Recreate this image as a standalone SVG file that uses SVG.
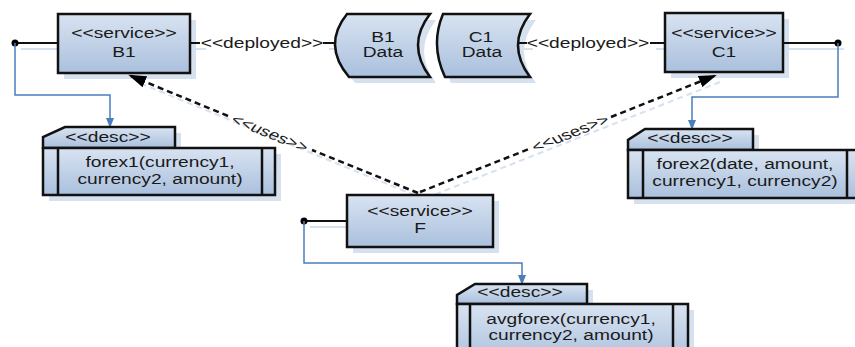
<svg xmlns="http://www.w3.org/2000/svg" width="855" height="347" viewBox="0 0 855 347">
  <defs>
    <linearGradient id="fillBlue" x1="0" y1="0" x2="0" y2="1">
      <stop offset="0" stop-color="#d8e3f1"/>
      <stop offset="1" stop-color="#aac0dd"/>
    </linearGradient>
    <marker id="usesHead" viewBox="0 0 18 12" refX="15" refY="6" markerWidth="18" markerHeight="12" markerUnits="userSpaceOnUse" orient="auto">
      <path d="M0,0 L18,6 L0,12 Z" fill="#000"/>
    </marker>
    <marker id="descHead" viewBox="0 0 10 8" refX="9" refY="4" markerWidth="10" markerHeight="8" markerUnits="userSpaceOnUse" orient="auto">
      <path d="M0,0 L10,4 L0,8 Z" fill="#4a7ebb"/>
    </marker>
    <style>
      .box { fill: url(#fillBlue); stroke: #111; stroke-width: 2.5; }
      .inner { stroke: #111; stroke-width: 2.5; fill: none; }
      .shadow { fill: #d6e1f0; stroke: none; }
      .shadowLine { fill: none; stroke: #d6e1f0; stroke-width: 2; }
      .wire { fill: none; stroke: #111; stroke-width: 2; }
      .link { fill: none; stroke: #4a7ebb; stroke-width: 1.5; }
      .uses { fill: none; stroke: #111; stroke-width: 2.5; stroke-dasharray: 6 4; }
      .dot { fill: #000; }
      text { font-family: "Liberation Sans", Arial, sans-serif; font-size: 14px; fill: #1a1a1a; text-anchor: middle; }
    </style>
  </defs>

  <!-- soft drop shadows -->
  <g id="shadows" transform="translate(6,6)">
    <rect class="shadow" x="58" y="14" width="132" height="59"/>
    <rect class="shadow" x="665" y="13" width="118" height="59"/>
    <rect class="shadow" x="347" y="195" width="146" height="52"/>
    <path class="shadow" d="M347,14 Q322,45 349,77 L430,77 Q406,45 430,14 Z"/>
    <path class="shadow" d="M443,14 Q430,45 445,77 L530,77 Q506,45 530,14 Z"/>
    <path class="shadow" d="M43,148 L43,137 L65,127 L175,127 L175,148 Z"/>
    <rect class="shadow" x="43" y="148" width="232" height="47"/>
    <path class="shadow" d="M628,150 L628,140 L645,129 L753,129 L753,150 Z"/>
    <rect class="shadow" x="628" y="150" width="230" height="48"/>
    <path class="shadow" d="M457,304 L457,295 L475,284 L587,284 L587,304 Z"/>
    <rect class="shadow" x="457" y="304" width="231" height="60"/>
    <path class="shadowLine" d="M15,43 H58 M190,43 H200 M323,43 H336 M518,43 H527 M650,43 H665 M783,43 H838 M304,221 H347"/>
    <path class="shadowLine" stroke-dasharray="6 4" d="M418,193 L131,76 M420,192 L714,76"/>
  </g>

  <!-- connectors -->
  <g id="connectors">
    <!-- deployed links -->
    <path class="wire" d="M190,43 H200 M323,43 H336"/>
    <text transform="translate(262,48) scale(1.37,1)">&lt;&lt;deployed&gt;&gt;</text>
    <path class="wire" d="M518,43 H527 M650,43 H665"/>
    <text transform="translate(588,48) scale(1.37,1)">&lt;&lt;deployed&gt;&gt;</text>

    <!-- provided interface stubs -->
    <path class="wire" d="M15,43 H58"/>
    <circle class="dot" cx="15" cy="43" r="3.5"/>
    <path class="wire" d="M783,43 H838"/>
    <circle class="dot" cx="838" cy="43" r="3.5"/>
    <path class="wire" d="M304,221 H347"/>
    <circle class="dot" cx="304" cy="221" r="3.5"/>

    <!-- description links -->
    <path class="link" d="M15,43 V95 H110 V127" marker-end="url(#descHead)"/>
    <path class="link" d="M838,43 V97 H692 V129" marker-end="url(#descHead)"/>
    <path class="link" d="M304,221 V263 H522 V284" marker-end="url(#descHead)"/>

    <!-- uses dependencies -->
    <path class="uses" d="M418,193 L312,150 M228,116 L131,76" marker-end="url(#usesHead)"/>
    <text transform="translate(270,133) scale(1.37,1) rotate(29.1)" y="5">&lt;&lt;uses&gt;&gt;</text>
    <path class="uses" d="M420,192 L529,149 M611,117 L714,76" marker-end="url(#usesHead)"/>
    <text transform="translate(570,133) scale(1.37,1) rotate(-28.4)" y="5">&lt;&lt;uses&gt;&gt;</text>
  </g>

  <!-- service B1 -->
  <g id="service-b1">
    <rect class="box" x="58" y="14" width="132" height="59"/>
    <text transform="translate(124,38) scale(1.37,1)">&lt;&lt;service&gt;&gt;</text>
    <text transform="translate(124,57) scale(1.37,1)">B1</text>
  </g>

  <!-- B1 data store -->
  <g id="data-b1">
    <path class="box" d="M347,14 Q322,45 349,77 L430,77 Q406,45 430,14 Z"/>
    <text transform="translate(383,42) scale(1.37,1)">B1</text>
    <text transform="translate(383,57) scale(1.37,1)">Data</text>
  </g>

  <!-- C1 data store -->
  <g id="data-c1">
    <path class="box" d="M443,14 Q430,45 445,77 L530,77 Q506,45 530,14 Z"/>
    <text transform="translate(481,42) scale(1.37,1)">C1</text>
    <text transform="translate(482,57) scale(1.37,1)">Data</text>
  </g>

  <!-- service C1 -->
  <g id="service-c1">
    <rect class="box" x="665" y="13" width="118" height="59"/>
    <text transform="translate(724,38) scale(1.37,1)">&lt;&lt;service&gt;&gt;</text>
    <text transform="translate(724,57) scale(1.37,1)">C1</text>
  </g>

  <!-- service F -->
  <g id="service-f">
    <rect class="box" x="347" y="195" width="146" height="52"/>
    <text transform="translate(420,216) scale(1.37,1)">&lt;&lt;service&gt;&gt;</text>
    <text transform="translate(420,233) scale(1.37,1)">F</text>
  </g>

  <!-- description of B1 -->
  <g id="desc-b1">
    <path class="box" d="M43,148 L43,137 L65,127 L175,127 L175,148 Z"/>
    <rect class="box" x="43" y="148" width="232" height="47"/>
    <path class="inner" d="M58,148 V195 M262,148 V195"/>
    <text transform="translate(108,142) scale(1.37,1)">&lt;&lt;desc&gt;&gt;</text>
    <text transform="translate(160,167) scale(1.37,1)">forex1(currency1,</text>
    <text transform="translate(160,184) scale(1.37,1)">currency2, amount)</text>
  </g>

  <!-- description of C1 -->
  <g id="desc-c1">
    <path class="box" d="M628,150 L628,140 L645,129 L753,129 L753,150 Z"/>
    <rect class="box" x="628" y="150" width="230" height="48"/>
    <path class="inner" d="M643,150 V198 M847,150 V198"/>
    <text transform="translate(690,143) scale(1.37,1)">&lt;&lt;desc&gt;&gt;</text>
    <text transform="translate(745,169) scale(1.37,1)">forex2(date, amount,</text>
    <text transform="translate(745,186) scale(1.37,1)">currency1, currency2)</text>
  </g>

  <!-- description of F -->
  <g id="desc-f">
    <path class="box" d="M457,304 L457,295 L475,284 L587,284 L587,304 Z"/>
    <rect class="box" x="457" y="304" width="231" height="60"/>
    <path class="inner" d="M470,304 V364 M673,304 V364"/>
    <text transform="translate(520,297) scale(1.37,1)">&lt;&lt;desc&gt;&gt;</text>
    <text transform="translate(571,324) scale(1.37,1)">avgforex(currency1,</text>
    <text transform="translate(571,340) scale(1.37,1)">currency2, amount)</text>
  </g>
</svg>
